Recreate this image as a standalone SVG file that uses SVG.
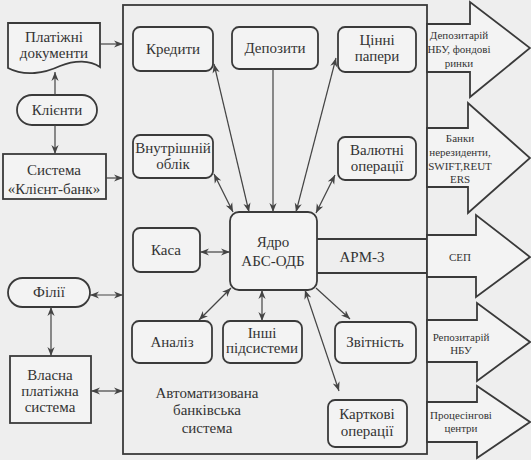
<svg xmlns="http://www.w3.org/2000/svg" width="531" height="460" viewBox="0 0 531 460" font-family="Liberation Serif, serif">
<style>
.bg{fill:#eeeeee}
.box{fill:#f3f3f3;stroke:#3a3a3a;stroke-width:1.8}
.frame{fill:none;stroke:#3a3a3a;stroke-width:1.8}
.barrow{fill:#f3f3f3;stroke:#3a3a3a;stroke-width:1.8;stroke-linejoin:miter}
text{font-family:"Liberation Serif",serif}
.t{font-size:15px;fill:#333;text-anchor:middle}
.s{font-size:11px;fill:#333;text-anchor:middle}
.c{fill:none;stroke:#444;stroke-width:1.2}
</style>
<defs>
<marker id="ah" viewBox="0 0 10 10" refX="10" refY="5" markerWidth="9" markerHeight="9" markerUnits="userSpaceOnUse" orient="auto-start-reverse">
<path d="M0,1 L10,5 L0,9 L3,5 Z" fill="#444"/>
</marker>
</defs>
<rect class="bg" x="0" y="0" width="531" height="460"/>

<g id="abs">
<rect class="frame" x="123" y="5" width="304" height="449"/>
<text class="t" x="207" y="398">Автоматизована</text>
<text class="t" x="207" y="415">банківська</text>
<text class="t" x="207" y="433">система</text>
</g>

<g id="out-depozytarii">
<polygon class="barrow" points="427,24 470,24 470,2 530,48 470,97 470,72 427,72"/>
<text class="s" x="459" y="39">Депозитарій</text>
<text class="s" x="459" y="53">НБУ, фондові</text>
<text class="s" x="459" y="67">ринки</text>
</g>
<g id="out-banky">
<polygon class="barrow" points="427,128 468,128 468,103 530,158 468,213 468,187 427,187"/>
<text class="s" x="460" y="142">Банки</text>
<text class="s" x="460" y="156">нерезиденти,</text>
<text class="s" x="460" y="170">SWIFT,REUT</text>
<text class="s" x="460" y="183">ERS</text>
</g>
<g id="out-sep">
<polygon class="barrow" points="427,235 476,235 476,215 530,257 476,297 476,277 427,277"/>
<text class="s" x="460" y="261">СЕП</text>
</g>
<g id="out-repozytarii">
<polygon class="barrow" points="427,320 477,320 477,303 530,342 477,381 477,362 427,362"/>
<text class="s" x="461" y="341">Репозитарій</text>
<text class="s" x="461" y="354">НБУ</text>
</g>
<g id="out-procesyng">
<polygon class="barrow" points="427,402 477,402 477,386 530,422 477,458 477,442 427,442"/>
<text class="s" x="461" y="419">Процесінгові</text>
<text class="s" x="461" y="432">центри</text>
</g>

<g id="platizhni">
<path class="box" d="M8,23 H100 V67 C90,60 75,60 60,66 C45,73 25,77 8,68 Z"/>
<text class="t" x="54" y="42">Платіжні</text>
<text class="t" x="54" y="58">документи</text>
</g>
<g id="klienty">
<rect class="box" x="17" y="95" width="80" height="30" rx="15"/>
<text class="t" x="57" y="115">Клієнти</text>
</g>
<g id="klient-bank">
<rect class="box" x="3" y="154" width="103" height="45"/>
<text class="t" x="54" y="175">Система</text>
<text class="t" x="54" y="194">«Клієнт-банк»</text>
</g>
<g id="filii">
<rect class="box" x="8" y="278" width="82" height="29" rx="14.5"/>
<text class="t" x="49" y="297">Філії</text>
</g>
<g id="vlasna">
<rect class="box" x="10" y="356" width="81" height="67"/>
<text class="t" x="50" y="380">Власна</text>
<text class="t" x="50" y="396">платіжна</text>
<text class="t" x="50" y="412">система</text>
</g>

<g id="kredyty">
<rect class="box" x="133" y="27" width="80" height="44" rx="7"/>
<text class="t" x="173" y="54">Кредити</text>
</g>
<g id="depozyty">
<rect class="box" x="232" y="27" width="86" height="42" rx="7"/>
<text class="t" x="275" y="53">Депозити</text>
</g>
<g id="cinni">
<rect class="box" x="338" y="27" width="78" height="45" rx="7"/>
<text class="t" x="377" y="45">Цінні</text>
<text class="t" x="377" y="61">папери</text>
</g>
<g id="vnutr">
<rect class="box" x="133" y="135" width="80" height="43" rx="7"/>
<text class="t" x="173" y="153">Внутрішній</text>
<text class="t" x="173" y="169">облік</text>
</g>
<g id="valutni">
<rect class="box" x="338" y="137" width="78" height="43" rx="7"/>
<text class="t" x="377" y="155">Валютні</text>
<text class="t" x="377" y="171">операції</text>
</g>
<g id="kasa">
<rect class="box" x="133" y="228" width="67" height="44" rx="7"/>
<text class="t" x="166" y="255">Каса</text>
</g>
<g id="yadro">
<rect class="box" x="230" y="212" width="87" height="78" rx="9"/>
<text class="t" x="273" y="247">Ядро</text>
<text class="t" x="273" y="266">АБС-ОДБ</text>
</g>
<g id="arm3">
<line class="frame" x1="317" y1="239" x2="427" y2="239"/>
<line class="frame" x1="317" y1="273" x2="427" y2="273"/>
<text class="t" x="362" y="262">АРМ-3</text>
</g>
<g id="analiz">
<rect class="box" x="132" y="321" width="80" height="42" rx="7"/>
<text class="t" x="172" y="347">Аналіз</text>
</g>
<g id="inshi">
<rect class="box" x="223" y="321" width="79" height="42" rx="7"/>
<text class="t" x="262" y="338">Інші</text>
<text class="t" x="262" y="353">підсистеми</text>
</g>
<g id="zvitnist">
<rect class="box" x="335" y="322" width="81" height="41" rx="7"/>
<text class="t" x="375" y="347">Звітність</text>
</g>
<g id="kartkovi">
<rect class="box" x="328" y="400" width="79" height="47" rx="7"/>
<text class="t" x="367" y="419">Карткові</text>
<text class="t" x="367" y="436">операції</text>
</g>

<g id="connectors">
<line class="c" x1="100" y1="44" x2="123" y2="44" marker-end="url(#ah)"/>
<line class="c" x1="55" y1="95" x2="55" y2="72" marker-end="url(#ah)"/>
<line class="c" x1="55" y1="125" x2="55" y2="154" marker-end="url(#ah)"/>
<line class="c" x1="106" y1="178" x2="123" y2="178" marker-end="url(#ah)"/>
<line class="c" x1="90" y1="295" x2="123" y2="295" marker-start="url(#ah)" marker-end="url(#ah)"/>
<line class="c" x1="51" y1="307" x2="51" y2="356" marker-start="url(#ah)" marker-end="url(#ah)"/>
<line class="c" x1="91" y1="391" x2="123" y2="391" marker-start="url(#ah)" marker-end="url(#ah)"/>
<line class="c" x1="214" y1="64" x2="249" y2="212" marker-start="url(#ah)" marker-end="url(#ah)"/>
<line class="c" x1="273" y1="69" x2="273" y2="212" marker-end="url(#ah)"/>
<line class="c" x1="336" y1="58" x2="296" y2="212" marker-start="url(#ah)" marker-end="url(#ah)"/>
<line class="c" x1="214" y1="174" x2="233" y2="212" marker-start="url(#ah)" marker-end="url(#ah)"/>
<line class="c" x1="335" y1="175" x2="316" y2="213" marker-start="url(#ah)" marker-end="url(#ah)"/>
<line class="c" x1="200" y1="252" x2="230" y2="252" marker-start="url(#ah)" marker-end="url(#ah)"/>
<line class="c" x1="231" y1="288" x2="199" y2="320" marker-start="url(#ah)" marker-end="url(#ah)"/>
<line class="c" x1="262" y1="290" x2="262" y2="321" marker-start="url(#ah)" marker-end="url(#ah)"/>
<line class="c" x1="316" y1="288" x2="350" y2="319" marker-end="url(#ah)"/>
<line class="c" x1="305" y1="290" x2="339" y2="391" marker-start="url(#ah)" marker-end="url(#ah)"/>
</g>
</svg>
